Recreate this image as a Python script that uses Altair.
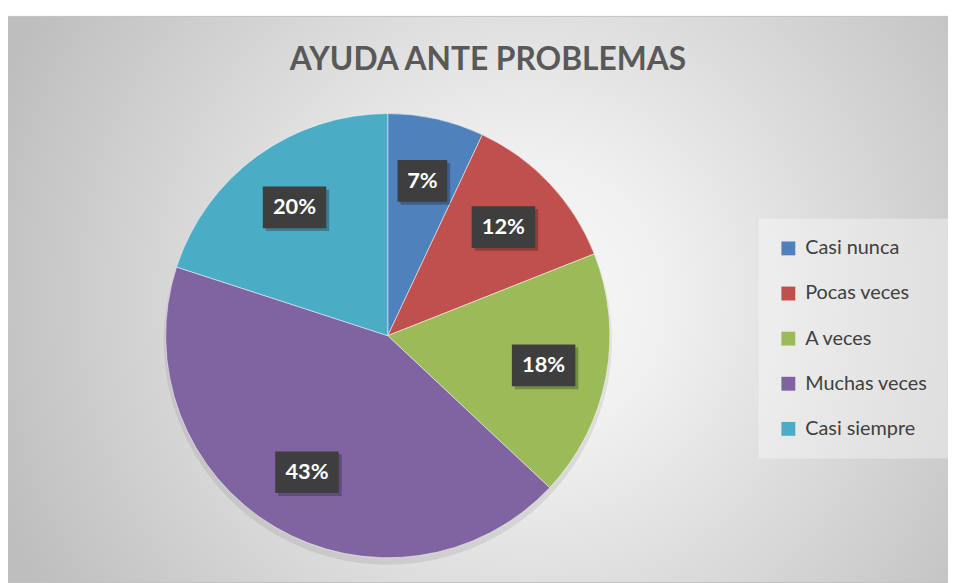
import altair as alt
import pandas as pd

TITLE = "AYUDA ANTE PROBLEMAS"
categories = ["Casi nunca", "Pocas veces", "A veces", "Muchas veces", "Casi siempre"]
values = [7, 12, 18, 43, 20]
colors = ["#4F81BD", "#C0504D", "#9BBB59", "#8064A2", "#4BACC6"]

W, H = 948, 575
CX, CY, R = 383, 328, 224
LR = 160  # label radius

df = pd.DataFrame({"cat": categories, "value": values, "order": list(range(len(categories)))})

bg = alt.Chart(pd.DataFrame({"a": [0]})).mark_rect(
    fill=alt.RadialGradient(
        gradient="radial",
        stops=[alt.GradientStop(color="#F8F8F8", offset=0),
               alt.GradientStop(color="#F0F0F0", offset=0.25),
               alt.GradientStop(color="#BEBEBE", offset=1)],
        x1=0.55, y1=0.5, r1=0, x2=0.55, y2=0.5, r2=0.6),
    stroke="#BFBFBF", strokeWidth=1,
).encode(x=alt.value(-1), x2=alt.value(W + 2), y=alt.value(6), y2=alt.value(H + 2))

title = alt.Chart(pd.DataFrame({"t": [TITLE]})).mark_text(
    font="Lato", fontSize=32, fontWeight="bold", color="#595959", baseline="alphabetic", align="center"
).encode(x=alt.value(484), y=alt.value(60), text="t:N")

base = alt.Chart(df)

shadow = base.mark_arc(outerRadius=R + 2, fill="#000000", opacity=0.08).encode(
    theta=alt.Theta("value:Q", stack=True), order=alt.Order("order:Q"),
    x=alt.value(CX), y=alt.value(CY + 5))

pie = base.mark_arc(outerRadius=R, stroke="#FFFFFF", strokeWidth=0.5).encode(
    theta=alt.Theta("value:Q", stack=True),
    order=alt.Order("order:Q"),
    color=alt.Color("cat:N", scale=alt.Scale(domain=categories, range=colors), sort=categories,
                    legend=alt.Legend(orient="none", legendX=757, legendY=210, title=None,
                                      symbolType="square", symbolSize=196, symbolStrokeWidth=0,
                                      labelFont="Lato", labelFontSize=20, labelColor="#404040",
                                      rowPadding=25.5, labelOffset=7, padding=20, labelLimit=300,
                                      fillColor="rgba(255,255,255,0.35)")),
    x=alt.value(CX), y=alt.value(CY),
)

lab = base.transform_window(
    cum="sum(value)", sort=[alt.SortField("order")], frame=[None, 0]
).transform_joinaggregate(total="sum(value)").transform_calculate(
    mid="(datum.cum - datum.value/2)/datum.total*2*PI",
    lx=f"{CX} + {LR}*sin(datum.mid)",
    ly=f"{CY} - {LR}*cos(datum.mid)",
    label="datum.value + '%'",
    hw="(22 + 14*length(datum.value + '%'))/2",
    bx1="datum.lx - datum.hw", bx2="datum.lx + datum.hw",
    by1="datum.ly - 21", by2="datum.ly + 21",
    sx1="datum.bx1 + 3", sx2="datum.bx2 + 3", sy1="datum.by1 + 3", sy2="datum.by2 + 3",
)

box_shadow = lab.mark_rect(fill="#000000", opacity=0.25).encode(
    x=alt.X("sx1:Q", scale=None, axis=None), x2="sx2:Q",
    y=alt.Y("sy1:Q", scale=None, axis=None), y2="sy2:Q")

box = lab.mark_rect(fill="#3E3E3E").encode(
    x=alt.X("bx1:Q", scale=None, axis=None), x2="bx2:Q",
    y=alt.Y("by1:Q", scale=None, axis=None), y2="by2:Q")

text = lab.mark_text(font="Lato", fontSize=22, fontWeight="bold", color="#FFFFFF",
                     baseline="middle", align="center").encode(
    x=alt.X("lx:Q", scale=None, axis=None), y=alt.Y("ly:Q", scale=None, axis=None), text="label:N")

chart = alt.layer(bg, title, shadow, pie, box_shadow, box, text).properties(
    width=W, height=H, autosize=alt.AutoSizeParams(type="none"), padding=0
).configure_view(stroke=None)

chart.save("out.html", embed_options={"renderer": "svg", "actions": False})
